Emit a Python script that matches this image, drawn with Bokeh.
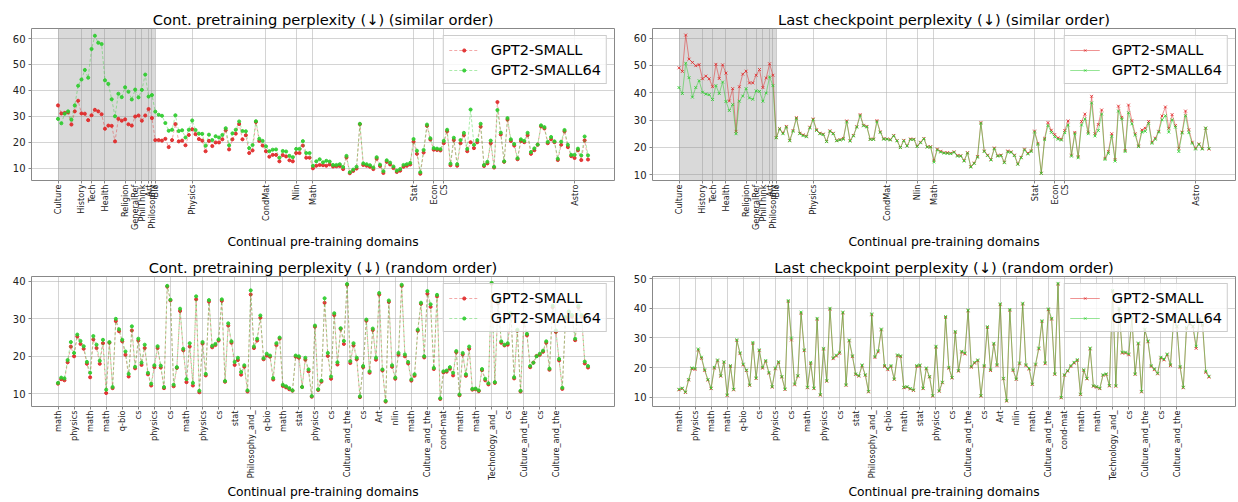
import math
from bokeh.plotting import figure
from bokeh.models import FixedTicker, Range1d, BoxAnnotation, Legend, LegendItem
from bokeh.layouts import column, row
from bokeh.embed import file_html
from bokeh.resources import INLINE

FONT = "DejaVu Sans"

# ---------------- data ----------------
SIM_TICKS = [0, 7, 10, 14, 20, 23, 25, 27, 28, 29, 40, 62, 71, 76, 106, 112, 115, 154]
SIM_LABELS = ["Culture", "History", "Tech", "Health", "Religion", "GeneralRef", "PhilThink",
              "Art", "Philosophy", "Bio", "Physics", "CondMat", "Nlin", "Math", "Stat",
              "Econ", "CS", "Astro"]
SHADE_END = 29

RND_TICKS = list(range(0, 156, 5))
RND_LABELS = ["math", "physics", "math", "math", "q-bio", "cs", "physics", "cs", "math",
              "physics", "cs", "stat", "Philosophy_and_", "q-bio", "math", "stat", "physics",
              "cs", "Culture_and_the", "cs", "Art", "nlin", "math", "Culture_and_the",
              "cond-mat", "math", "math", "Technology_and_", "cs", "Culture_and_the", "cs",
              "Culture_and_the"]

# Cont. pretraining perplexity, similar order
TL_SMALL = [
    34.2, 31.1, 31.3, 31.5, 26.8, 31.9, 36.0, 31.1, 31.0, 28.5,
    30.4, 32.5, 31.9, 30.8, 25.2, 26.4, 26.3, 20.3, 29.0, 28.3,
    28.8, 26.9, 26.4, 29.9, 30.3, 28.3, 30.3, 32.8, 29.3, 20.8,
    20.8, 20.6, 21.3, 18.1, 20.8, 27.0, 20.3, 20.6, 18.8, 22.8,
    25.0, 23.1, 21.2, 20.6, 16.5, 20.5, 18.5, 19.9, 19.9, 21.1,
    24.6, 17.2, 21.1, 23.3, 27.0, 21.1, 22.7, 15.8, 16.8, 27.8,
    20.5, 18.7, 16.5, 14.4, 15.1, 15.1, 12.6, 15.0, 14.5, 13.0,
    12.6, 15.8, 15.8, 18.7, 14.0, 14.0, 9.9, 10.9, 11.2, 11.1,
    10.9, 11.4, 10.6, 10.7, 10.8, 9.6, 14.1, 8.0, 8.9, 9.8,
    26.9, 11.2, 10.9, 10.5, 9.6, 13.6, 10.8, 8.1, 12.4, 11.4,
    10.0, 8.5, 9.0, 10.5, 10.9, 11.4, 20.2, 15.5, 7.8, 16.0,
    26.3, 21.0, 17.1, 17.0, 16.8, 19.6, 24.2, 11.1, 20.8, 10.9,
    19.6, 22.7, 16.5, 20.0, 17.7, 20.0, 26.0, 10.8, 11.8, 19.6,
    10.2, 35.5, 23.0, 12.4, 28.7, 20.5, 18.7, 13.4, 20.5, 20.0,
    22.7, 15.5, 16.9, 19.0, 26.1, 25.3, 19.6, 21.1, 20.0, 13.1,
    19.0, 24.2, 18.1, 14.6, 13.9, 16.9, 13.1, 20.7, 13.3]
TL_SMALL64 = [
    29.0, 27.3, 31.0, 31.9, 28.7, 34.2, 41.8, 44.2, 47.9, 44.9,
    56.0, 61.1, 58.4, 57.9, 43.9, 42.5, 36.6, 30.0, 38.7, 37.4,
    41.2, 39.5, 36.5, 40.3, 37.3, 40.2, 46.1, 37.6, 38.2, 31.8,
    30.6, 30.2, 27.4, 24.4, 24.8, 30.4, 24.3, 24.6, 21.8, 24.8,
    28.4, 24.7, 23.3, 23.2, 18.6, 22.9, 20.8, 22.3, 21.8, 22.8,
    25.4, 18.8, 23.4, 24.8, 28.0, 24.3, 24.2, 17.7, 18.9, 28.1,
    21.3, 20.5, 18.4, 16.5, 17.1, 17.2, 14.0, 16.6, 16.4, 14.7,
    14.2, 17.4, 17.4, 20.4, 15.8, 15.8, 10.9, 12.6, 13.4, 12.2,
    12.8, 12.5, 11.2, 11.2, 11.5, 10.4, 14.7, 8.4, 9.4, 10.5,
    27.1, 11.8, 11.5, 11.1, 10.2, 14.2, 11.3, 8.8, 13.0, 12.1,
    10.6, 9.0, 9.6, 11.2, 11.5, 12.0, 21.2, 16.7, 8.4, 17.0,
    26.8, 21.5, 17.7, 17.5, 17.3, 20.5, 24.8, 11.7, 21.7, 11.5,
    20.8, 23.6, 17.4, 32.6, 19.0, 20.8, 27.1, 11.2, 12.4, 20.6,
    10.5, 32.4, 23.7, 12.6, 29.3, 21.1, 19.3, 13.8, 21.1, 20.5,
    23.6, 16.2, 17.6, 19.1, 26.5, 25.8, 20.1, 22.0, 20.3, 13.6,
    20.2, 24.7, 19.0, 15.1, 15.1, 17.5, 14.9, 22.2, 14.9]

# Last checkpoint perplexity, similar order
TR_SMALL = [
    49.1, 47.8, 61.1, 52.3, 51.1, 49.9, 50.3, 45.1, 46.1, 45.1,
    42.2, 50.4, 45.2, 50.2, 47.2, 37.0, 41.5, 25.9, 42.2, 46.8,
    47.9, 43.6, 43.6, 46.4, 48.5, 41.9, 45.4, 50.6, 46.4, 23.6,
    26.9, 25.3, 27.7, 22.6, 26.2, 30.9, 25.2, 24.6, 24.1, 27.4,
    30.4, 26.5, 25.2, 24.9, 22.2, 26.1, 25.2, 22.5, 22.9, 23.3,
    29.7, 22.5, 24.4, 27.6, 32.0, 28.1, 27.7, 23.0, 23.1, 29.8,
    25.7, 23.2, 23.1, 22.9, 24.4, 22.5, 20.0, 22.6, 20.6, 23.1,
    23.0, 20.5, 21.9, 23.3, 20.2, 20.3, 15.3, 19.4, 18.6, 18.1,
    18.1, 17.9, 18.4, 17.1, 17.0, 15.2, 18.1, 13.0, 14.3, 16.7,
    29.1, 18.7, 17.2, 15.6, 19.8, 17.0, 17.2, 14.6, 18.7, 18.4,
    17.2, 14.0, 16.4, 19.4, 17.9, 18.8, 26.0, 21.5, 10.6, 23.3,
    29.1, 26.3, 24.7, 23.5, 23.0, 26.2, 29.7, 17.2, 25.5, 16.6,
    29.5, 32.2, 25.6, 38.7, 25.0, 28.4, 33.7, 16.0, 18.5, 25.0,
    15.6, 35.1, 31.0, 18.9, 35.5, 29.8, 25.0, 20.6, 26.4, 27.0,
    29.5, 21.9, 23.4, 25.9, 31.5, 34.8, 27.0, 32.0, 28.0, 19.7,
    25.6, 33.3, 26.5, 21.9, 19.7, 21.3, 19.6, 27.0, 19.4]
TR_SMALL64 = [
    41.9, 39.7, 50.8, 45.5, 38.4, 41.9, 44.4, 40.2, 39.5, 39.3,
    37.5, 42.6, 39.7, 43.9, 36.8, 33.5, 35.7, 25.0, 36.9, 38.8,
    41.5, 38.1, 37.6, 40.7, 40.5, 36.9, 39.9, 45.8, 42.6, 23.5,
    26.7, 25.0, 27.4, 22.4, 25.9, 30.6, 25.0, 24.3, 23.9, 27.1,
    30.1, 26.2, 25.0, 24.7, 22.1, 25.9, 25.0, 22.4, 22.7, 23.0,
    29.3, 22.3, 24.2, 27.4, 31.6, 27.9, 27.5, 22.9, 22.9, 29.4,
    25.5, 23.0, 23.0, 22.7, 24.2, 22.4, 19.9, 22.4, 20.5, 22.9,
    22.9, 20.3, 21.7, 23.1, 20.1, 20.1, 14.7, 19.1, 18.3, 17.9,
    17.8, 17.7, 18.2, 16.8, 16.8, 15.0, 17.9, 12.8, 14.1, 16.4,
    28.8, 18.5, 17.0, 15.4, 19.5, 16.8, 17.0, 14.4, 18.4, 18.2,
    17.0, 13.8, 16.2, 19.1, 17.6, 18.5, 25.6, 21.1, 10.5, 22.9,
    28.0, 25.5, 23.9, 23.0, 22.7, 25.4, 28.2, 16.8, 25.0, 16.2,
    28.2, 30.4, 25.0, 36.3, 24.2, 26.2, 32.2, 15.6, 17.9, 24.1,
    15.0, 33.3, 30.4, 18.5, 32.7, 28.6, 24.5, 20.3, 25.6, 25.9,
    28.8, 21.5, 23.0, 25.6, 30.1, 31.6, 25.6, 30.1, 27.4, 18.5,
    25.3, 31.6, 25.4, 21.5, 19.4, 21.1, 19.4, 27.1, 19.6]

# Cont. pretraining perplexity, random order
BL_SMALL = [
    12.7, 13.9, 13.6, 18.4, 22.6, 20.0, 25.3, 23.3, 22.0, 18.0,
    14.4, 24.5, 22.2, 18.0, 23.5, 10.2, 23.6, 11.5, 29.4, 26.7,
    24.0, 20.4, 14.6, 26.9, 16.8, 24.2, 17.7, 22.2, 15.2, 12.2,
    17.1, 22.2, 17.0, 11.5, 38.6, 34.9, 12.0, 16.9, 32.1, 21.6,
    13.1, 22.6, 12.2, 35.2, 10.4, 23.4, 14.9, 34.6, 22.4, 23.0,
    24.2, 34.8, 13.2, 28.2, 23.6, 17.7, 19.0, 15.1, 17.2, 10.6,
    36.5, 22.2, 24.2, 30.3, 19.2, 20.2, 19.9, 13.8, 23.0, 24.7,
    12.1, 11.7, 11.2, 10.8, 19.9, 19.6, 11.8, 19.1, 16.0, 9.2,
    27.9, 11.0, 13.2, 34.3, 20.1, 14.0, 31.0, 17.8, 27.3, 23.3,
    39.1, 18.2, 22.9, 19.2, 9.1, 17.1, 29.5, 15.6, 27.0, 19.1,
    36.5, 16.2, 7.9, 34.5, 17.2, 14.0, 20.4, 38.8, 20.0, 18.1,
    13.5, 14.8, 26.8, 34.0, 19.7, 36.7, 33.2, 16.6, 36.0, 8.6,
    15.7, 15.9, 16.7, 14.9, 21.1, 9.6, 20.5, 14.8, 22.0, 11.1,
    11.2, 10.7, 16.3, 13.6, 12.5, 39.4, 12.9, 34.2, 23.6, 22.9,
    23.1, 31.1, 14.1, 26.8, 10.6, 29.1, 25.6, 17.1, 18.3, 20.1,
    20.4, 21.2, 23.6, 16.4, 33.1, 26.5, 18.9, 11.3, 30.1, 31.6,
    30.6, 24.3, 33.1, 30.6, 18.1, 17.0]
BL_SMALL64 = [
    12.9, 14.3, 14.1, 19.0, 23.8, 20.9, 25.8, 24.1, 22.7, 18.5,
    15.6, 25.4, 23.1, 18.8, 24.4, 11.1, 23.8, 11.8, 30.0, 27.2,
    24.4, 21.3, 15.3, 28.0, 17.2, 24.7, 18.3, 23.1, 15.6, 12.7,
    17.6, 22.7, 17.5, 11.8, 38.8, 35.1, 12.4, 17.1, 32.7, 22.0,
    13.9, 23.5, 12.9, 36.0, 10.8, 23.8, 15.3, 35.0, 22.8, 23.3,
    24.5, 35.2, 13.4, 28.8, 24.0, 18.5, 19.6, 15.8, 17.6, 10.9,
    37.6, 22.6, 24.7, 30.9, 19.5, 20.7, 20.2, 14.2, 23.5, 25.0,
    12.4, 12.0, 11.5, 10.9, 20.2, 20.0, 11.8, 19.6, 16.5, 9.4,
    28.2, 11.2, 13.5, 35.5, 20.9, 14.6, 31.5, 18.4, 27.5, 24.1,
    39.3, 18.7, 23.5, 19.6, 9.3, 17.4, 29.8, 16.0, 27.4, 19.6,
    36.9, 16.5, 8.1, 34.9, 17.6, 14.3, 20.9, 39.1, 20.5, 18.5,
    13.8, 15.2, 27.1, 34.3, 20.0, 37.4, 33.9, 16.9, 36.4, 8.8,
    16.0, 16.2, 17.1, 15.6, 21.4, 9.8, 20.9, 15.2, 22.6, 11.3,
    11.4, 10.9, 16.6, 14.0, 12.8, 39.6, 13.1, 34.5, 24.0, 23.1,
    23.5, 31.5, 14.4, 27.1, 10.8, 29.5, 26.0, 17.4, 18.3, 20.0,
    20.7, 21.5, 24.0, 16.7, 33.5, 26.9, 19.3, 11.6, 30.5, 32.0,
    31.0, 24.7, 33.5, 31.0, 18.6, 17.4]

# Last checkpoint perplexity, random order
BR_SMALL = [
    12.5, 12.9, 11.6, 15.8, 19.6, 19.4, 25.9, 23.1, 19.0, 15.8,
    12.9, 19.8, 22.3, 17.1, 21.8, 10.6, 20.4, 12.5, 29.1, 24.7,
    20.9, 19.0, 14.0, 28.1, 16.3, 25.7, 19.8, 22.1, 18.1, 13.4,
    19.6, 21.7, 16.8, 12.6, 42.3, 29.3, 14.2, 17.1, 38.3, 25.7,
    13.2, 21.4, 12.9, 36.3, 10.7, 26.2, 15.4, 39.7, 23.0, 23.9,
    24.8, 38.4, 14.0, 29.0, 23.7, 17.7, 17.1, 20.6, 17.4, 11.8,
    37.8, 23.4, 25.3, 32.7, 20.4, 19.3, 20.4, 16.0, 24.0, 23.7,
    13.2, 13.4, 12.8, 12.3, 20.4, 20.6, 12.9, 19.6, 16.8, 10.4,
    26.9, 12.0, 14.9, 36.9, 19.8, 16.5, 31.9, 18.8, 25.2, 24.6,
    39.1, 20.1, 21.5, 22.3, 10.4, 20.4, 33.5, 19.0, 27.9, 20.7,
    41.2, 16.2, 8.7, 39.3, 19.0, 16.0, 21.3, 41.4, 20.7, 19.5,
    14.3, 20.9, 26.3, 35.5, 21.3, 39.5, 36.3, 17.7, 48.1, 9.8,
    17.4, 18.8, 20.4, 21.5, 22.4, 10.9, 19.0, 16.2, 26.3, 13.7,
    13.4, 12.9, 17.4, 17.7, 13.8, 45.7, 13.7, 39.7, 24.9, 24.9,
    24.3, 36.7, 17.7, 28.0, 11.8, 32.7, 28.7, 20.4, 19.3, 17.9,
    23.2, 22.6, 24.3, 20.7, 36.2, 33.7, 20.1, 13.2, 33.2, 34.7,
    33.7, 26.5, 36.2, 34.2, 18.4, 16.8]
BR_SMALL64 = [
    12.7, 13.1, 11.8, 16.0, 19.9, 19.7, 26.3, 23.5, 19.3, 16.0,
    13.1, 20.1, 22.6, 17.3, 22.0, 10.8, 20.7, 12.7, 29.4, 25.0,
    21.2, 19.2, 14.2, 28.5, 16.5, 26.0, 20.1, 22.4, 18.4, 13.6,
    19.9, 22.0, 17.0, 12.8, 42.6, 30.0, 14.5, 17.3, 38.7, 26.0,
    13.4, 21.8, 13.1, 36.6, 10.9, 26.5, 15.6, 40.0, 23.3, 24.2,
    25.2, 38.7, 14.2, 29.3, 24.0, 17.9, 17.3, 20.9, 17.6, 12.0,
    38.1, 23.7, 25.7, 33.0, 20.7, 19.6, 20.7, 16.2, 24.3, 24.0,
    13.4, 13.6, 13.0, 12.5, 20.7, 20.9, 13.1, 19.9, 17.0, 10.6,
    27.2, 12.2, 15.1, 37.2, 20.1, 16.7, 32.2, 19.0, 25.5, 24.9,
    39.4, 20.4, 21.8, 22.6, 10.6, 20.7, 33.8, 19.3, 28.2, 21.0,
    41.5, 16.4, 8.9, 39.6, 19.3, 16.2, 21.6, 41.7, 21.0, 19.8,
    14.5, 21.2, 26.6, 35.8, 21.6, 39.8, 36.6, 17.9, 48.4, 10.0,
    17.6, 19.0, 20.7, 21.8, 22.7, 11.1, 19.3, 16.4, 26.6, 13.9,
    13.6, 13.1, 17.6, 17.9, 14.0, 46.0, 13.9, 40.0, 25.2, 25.2,
    24.6, 37.0, 17.9, 28.3, 12.0, 33.0, 29.0, 20.7, 19.6, 18.1,
    23.5, 22.9, 24.6, 21.0, 36.5, 34.0, 20.4, 13.4, 33.5, 35.0,
    34.0, 27.2, 36.5, 34.5, 18.8, 17.1]

RED = "#e02828"
GREEN = "#2ecc2e"


def make_fig(title, series_red, series_green, yr, yticks, ticks, labels, width, height,
             bl, br, bt, bb, shade, dashed):
    n = len(series_red)
    L = n - 1
    p = figure(width=width, height=height,
               x_range=Range1d(-0.05 * L, 1.05 * L), y_range=Range1d(*yr),
               output_backend="svg", toolbar_location=None,
               min_border_left=bl, min_border_right=br,
               min_border_top=bt, min_border_bottom=bb,
               background_fill_color="white", border_fill_color="white")
    p.title.text = title
    p.title.text_font = FONT
    p.title.text_font_size = "14.7px"
    p.title.text_font_style = "normal"
    p.title.text_color = "black"
    p.title.align = "center"
    p.title.standoff = 2

    p.xaxis.ticker = FixedTicker(ticks=ticks)
    p.xaxis.major_label_overrides = {t: l for t, l in zip(ticks, labels)}
    p.xaxis.major_label_orientation = math.pi / 2
    p.xaxis.major_label_text_font = FONT
    p.xaxis.major_label_text_font_size = "8.2px"
    p.xaxis.major_label_standoff = 1
    p.xaxis.axis_label = "Continual pre-training domains"
    p.xaxis.axis_label_text_font = FONT
    p.xaxis.axis_label_text_font_size = "12.3px"
    p.xaxis.axis_label_text_font_style = "normal"
    p.xaxis.axis_label_text_color = "black"
    p.xaxis.axis_label_standoff = 2

    p.yaxis.ticker = FixedTicker(ticks=yticks)
    p.yaxis.major_label_text_font = FONT
    p.yaxis.major_label_text_font_size = "10px"
    p.yaxis.major_label_standoff = 3

    p.axis.major_label_text_color = "#222222"
    p.axis.minor_tick_line_color = None
    p.axis.major_tick_in = 0
    p.axis.major_tick_out = 3
    p.axis.major_tick_line_color = "#888888"
    p.axis.axis_line_color = None
    p.outline_line_color = "#888888"
    p.outline_line_width = 1

    p.grid.grid_line_color = "#b0b0b0"
    p.grid.grid_line_alpha = 0.55
    p.grid.grid_line_width = 1

    if shade:
        p.add_layout(BoxAnnotation(left=0, right=SHADE_END, fill_color="#808080",
                                   fill_alpha=0.3, line_color=None, level="underlay"))

    x = list(range(n))
    items = []
    for name, ys, col in (("GPT2-SMALL", series_red, RED), ("GPT2-SMALL64", series_green, GREEN)):
        if dashed:
            lr = p.line(x, ys, line_color=col, line_alpha=0.5, line_width=0.8, line_dash="3 2")
            mr = p.scatter(x, ys, marker="circle", size=3.1, fill_color=col, line_color=col,
                           fill_alpha=0.9, line_alpha=0.9)
        else:
            lr = p.line(x, ys, line_color=col, line_alpha=0.5, line_width=1.0)
            mr = p.scatter(x, ys, marker="x", size=4.0, line_color=col, line_width=1,
                           line_alpha=0.85)
        items.append(LegendItem(label=name, renderers=[lr, mr]))

    legend = Legend(items=items, location="top_right",
                    label_text_font=FONT, label_text_font_size="14.6px",
                    label_text_color="black",
                    glyph_width=30, glyph_height=8, label_height=17, spacing=3,
                    padding=5, margin=7, label_standoff=12,
                    border_line_color="#cccccc", border_line_alpha=1,
                    background_fill_color="white", background_fill_alpha=0.8)
    p.add_layout(legend)
    return p


# the page has no body margin (Bokeh template), so figures start at (0, 0)
W_LEFT, W_RIGHT = 629, 609
H_TOP, H_BOT = 252, 250

p1 = make_fig("Cont. pretraining perplexity (\u2193) (similar order)", TL_SMALL, TL_SMALL64,
              (5.2, 63.9), [10, 20, 30, 40, 50, 60], SIM_TICKS, SIM_LABELS,
              W_LEFT, H_TOP, 31, 15, 28, 67, True, True)
p2 = make_fig("Last checkpoint perplexity (\u2193) (similar order)", TR_SMALL, TR_SMALL64,
              (7.9, 63.5), [10, 20, 30, 40, 50, 60], SIM_TICKS, SIM_LABELS,
              W_RIGHT, H_TOP, 23, 3, 28, 67, True, False)
p3 = make_fig("Cont. pretraining perplexity (\u2193) (random order)", BL_SMALL, BL_SMALL64,
              (6.6, 41.3), [10, 20, 30, 40], RND_TICKS, RND_LABELS,
              W_LEFT, H_BOT, 31, 15, 24, 96, False, True)
p4 = make_fig("Last checkpoint perplexity (\u2193) (random order)", BR_SMALL, BR_SMALL64,
              (6.9, 50.7), [10, 20, 30, 40, 50], RND_TICKS, RND_LABELS,
              W_RIGHT, H_BOT, 23, 3, 24, 96, False, False)

layout = column(row(p1, p2), row(p3, p4))
open("out.html", "w").write(file_html(layout, INLINE))
